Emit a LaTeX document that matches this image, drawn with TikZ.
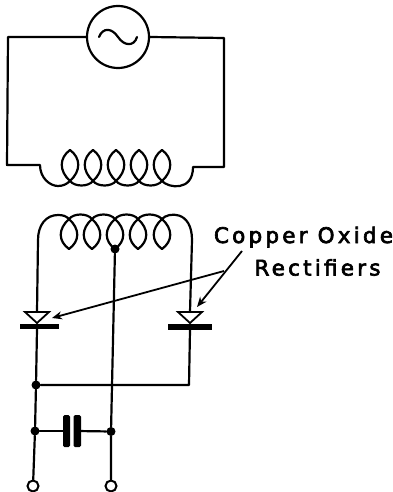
\documentclass[tikz,border=0pt]{standalone}
\usepackage{fontspec}
\setmainfont[LetterSpace=15,FakeBold=3]{DejaVu Sans}
\usetikzlibrary{arrows.meta}
\tikzset{
  wire/.style={line width=2.2pt,line cap=round,line join=round},
  junction/.style={circle,fill=black,inner sep=0pt,minimum size=9pt},
  terminal/.style={circle,draw,fill=white,line width=2pt,inner sep=0pt,minimum size=11pt},
  source/.style={circle,draw,line width=2.2pt,inner sep=0pt,minimum size=62pt},
  plate/.style={fill=black,rounded corners=1.5pt},
  label/.style={font=\fontsize{21.5}{24}\selectfont,inner sep=0pt,anchor=base},
  leader/.style={line width=1.8pt,-{Stealth[length=10pt,width=8pt]}}
}
\begin{document}
\begin{tikzpicture}[x=1pt,y=-1pt]
\useasboundingbox (0,0) rectangle (393,492);
% upper circuit
\node[source] (gen) at (118,37) {};
\draw[wire] (gen.west) -- (8,37) -- (7,165) -- (40,165)
  .. controls (40,178) and (50,186) .. (58,186)
  .. controls (63,186) and (67,184) .. (70,181)
  .. controls (81,171) and (81,158) .. (70,150)
  .. controls (59,158) and (59,171) .. (70,181)
  .. controls (75,187) and (88,187) .. (93,181)
  .. controls (104,171) and (104,158) .. (93,150)
  .. controls (82,158) and (82,171) .. (93,181)
  .. controls (98,187) and (111,187) .. (116,181)
  .. controls (127,171) and (127,158) .. (116,150)
  .. controls (105,158) and (105,171) .. (116,181)
  .. controls (121,187) and (134,187) .. (139,181)
  .. controls (150,171) and (150,158) .. (139,150)
  .. controls (128,158) and (128,171) .. (139,181)
  .. controls (144,187) and (157,187) .. (162,181)
  .. controls (173,171) and (173,158) .. (162,150)
  .. controls (151,158) and (151,171) .. (162,181)
  .. controls (168,188) and (193,192) .. (193,167)
  -- (224,167) -- (224,38) -- (gen.east);
\draw[wire] (99,37) .. controls (103,27) and (112,28) .. (118,37)
  .. controls (124,46) and (134,47) .. (137,37);
% lower coil
\coordinate (dl) at (37,312);
\coordinate (dr) at (190,312);
\node[junction] (tap) at (115,249) {};
\draw[wire] (dl) -- (38,240)
  .. controls (38,225) and (46,215) .. (58,215)
  .. controls (63,215) and (66,216) .. (69,219)
  .. controls (80,229) and (80,241) .. (69,249)
  .. controls (58,241) and (58,229) .. (69,219)
  .. controls (74,213) and (87,213) .. (92,219)
  .. controls (103,229) and (103,241) .. (92,249)
  .. controls (81,241) and (81,229) .. (92,219)
  .. controls (97,213) and (110,213) .. (115,219)
  .. controls (126,229) and (126,241) .. (115,249)
  .. controls (104,241) and (104,229) .. (115,219)
  .. controls (120,213) and (133,213) .. (138,219)
  .. controls (149,229) and (149,241) .. (138,249)
  .. controls (127,241) and (127,229) .. (138,219)
  .. controls (143,213) and (156,213) .. (162,219)
  .. controls (173,229) and (173,241) .. (162,249)
  .. controls (151,241) and (151,229) .. (162,219)
  .. controls (168,212) and (192,210) .. (192,240)
  -- (dr);
% rectifiers
\draw[line width=1.8pt,line join=miter] (25,312) -- (49,312) -- (37,323) -- cycle;
\draw[line width=1.8pt,line join=miter] (178,312) -- (202,312) -- (190,323) -- cycle;
\fill (20,323.5) rectangle (59,329);
\fill (168,324) rectangle (212,330);
% lower wiring
\node[junction] (j1) at (36,385) {};
\node[junction] (j2) at (35,431) {};
\node[junction] (j3) at (111,431.5) {};
\node[terminal] (t1) at (33,486) {};
\node[terminal] (t2) at (111,486) {};
\draw[wire] (37,329) -- (j1) -- (j2) -- (t1);
\draw[wire] (tap) -- (j3) -- (t2);
\draw[wire] (190,330) -- (189,385) -- (j1);
% capacitor
\coordinate (cl) at (66.5,431);
\coordinate (cr) at (77,431);
\draw[wire] (j2) -- (cl);
\draw[wire] (cr) -- (j3);
\fill[plate] (63,415) rectangle (70,447);
\fill[plate] (73.5,415) rectangle (81,447);
% label
\node[label] (cap1) at (303.5,243) {Copper Oxide};
\node[label] (cap2) at (317.5,275.5) {Rectifiers};
\coordinate (ld) at (242,251);
\coordinate (lj) at (224,271);
\coordinate (tipl) at (52,318);
\coordinate (tipr) at (197,307);
\draw[leader] (ld) -- (tipr);
\draw[leader] (lj) -- (tipl);
\end{tikzpicture}
\end{document}
